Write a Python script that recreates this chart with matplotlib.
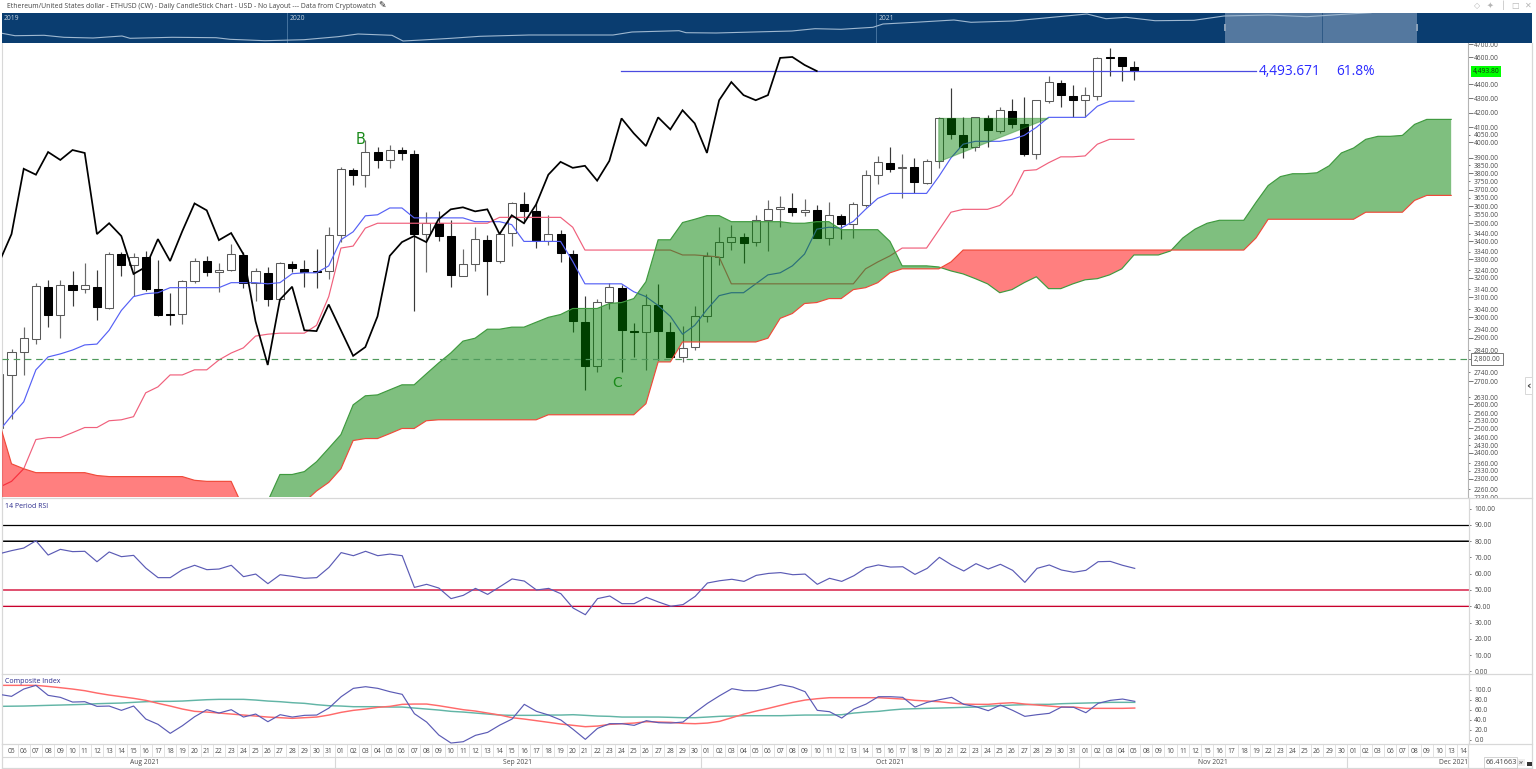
import numpy as np
import matplotlib
matplotlib.use('Agg')
import matplotlib.pyplot as plt
from matplotlib.lines import Line2D
from matplotlib.patches import Rectangle
from matplotlib.ticker import FuncFormatter, NullFormatter

plt.rcParams['font.family'] = ['Open Sans', 'DejaVu Sans']

# Candles, first one is cut off by the left edge
opens = [2498, 2728, 2833, 2893, 3154, 3013, 3164, 3144, 3154, 3043,
         3328, 3269, 3312, 3144, 3018, 3018, 3185, 3290, 3232, 3242,
         3323, 3175, 3227, 3093, 3274, 3248, 3237, 3237, 3433, 3823,
         3792, 3936, 3885, 3949, 3924, 3439, 3501, 3428, 3211, 3274,
         3405, 3290, 3445, 3611, 3570, 3400, 3439, 3328, 2975, 2769,
         3078, 3149, 2932, 2927, 3063, 2927, 2810, 2856, 3004, 3312,
         3394, 3422, 3394, 3518, 3582, 3588, 3565, 3576, 3417, 3541,
         3495, 3605, 3792, 3867, 3835, 3841, 3743, 3879, 4160, 4045,
         3968, 4160, 4072, 4209, 4119, 3924, 4279, 4409, 4315, 4286,
         4315, 4602, 4602, 4527]
highs = [2733, 2847, 2951, 3175, 3190, 3190, 3237, 3280, 3242, 3339,
         3339, 3334, 3345, 3296, 3123, 3190, 3307, 3318, 3280, 3383,
         3339, 3253, 3258, 3285, 3290, 3296, 3356, 3478, 3841, 3835,
         4012, 3968, 3981, 3968, 3949, 3565, 3570, 3518, 3356, 3478,
         3433, 3456, 3623, 3683, 3623, 3547, 3461, 3350, 3108, 3093,
         3175, 3164, 2970, 3118, 3169, 2975, 2956, 3053, 3339, 3478,
         3490, 3445, 3547, 3635, 3659, 3677, 3641, 3605, 3623, 3553,
         3623, 3823, 3911, 3968, 3924, 3898, 3892, 4167, 4373, 4167,
         4167, 4181, 4237, 4293, 4308, 4286, 4460, 4431, 4395, 4380,
         4602, 4671, 4602, 4572]
lows = [2498, 2538, 2728, 2870, 2951, 2898, 3053, 3123, 2984, 3038,
        3211, 3108, 3133, 3004, 2960, 2965, 3175, 3211, 3128, 3237,
        3149, 3083, 3058, 3088, 3232, 3154, 3149, 3196, 3394, 3731,
        3713, 3835, 3835, 3885, 3028, 3232, 3400, 3154, 3211, 3237,
        3113, 3280, 3372, 3501, 3361, 3378, 3285, 2927, 2662, 2742,
        3038, 2742, 2810, 2751, 2796, 2810, 2787, 2842, 2975, 3269,
        3350, 3280, 3372, 3345, 3478, 3541, 3541, 3417, 3378, 3411,
        3417, 3594, 3737, 3811, 3647, 3677, 3737, 3835, 4019, 3898,
        3943, 3968, 4059, 4092, 3911, 3892, 4265, 4237, 4167, 4167,
        4286, 4460, 4423, 4431]
closes = [2733, 2833, 2898, 3159, 3013, 3164, 3139, 3164, 3048, 3328,
          3269, 3312, 3144, 3013, 3013, 3185, 3290, 3232, 3242, 3328,
          3175, 3237, 3093, 3280, 3253, 3232, 3232, 3433, 3829, 3792,
          3936, 3885, 3949, 3930, 3439, 3501, 3428, 3216, 3274, 3411,
          3290, 3439, 3617, 3570, 3400, 3439, 3334, 2980, 2769, 3078,
          3154, 2936, 2927, 3063, 2932, 2810, 2852, 3004, 3318, 3394,
          3422, 3389, 3518, 3582, 3594, 3565, 3576, 3417, 3547, 3495,
          3611, 3792, 3873, 3829, 3841, 3749, 3879, 4160, 4052, 3968,
          4167, 4079, 4216, 4119, 3924, 4286, 4416, 4322, 4286, 4322,
          4595, 4595, 4535, 4497]

tenkan = [2489, 2551, 2610, 2751, 2810, 2824, 2842, 2866, 2870, 2936,
          3033, 3103, 3118, 3123, 3149, 3149, 3149, 3149, 3149, 3175,
          3175, 3175, 3169, 3175, 3222, 3227, 3227, 3264, 3407, 3452,
          3544, 3550, 3590, 3590, 3532, 3532, 3532, 3532, 3532, 3510,
          3510, 3510, 3493, 3398, 3398, 3398, 3398, 3288, 3169, 3169,
          3169, 3169, 3128, 3103, 3058, 3004, 2917, 2960, 3038, 3108,
          3123, 3123, 3169, 3216, 3227, 3264, 3328, 3467, 3478, 3473,
          3512, 3582, 3647, 3677, 3677, 3677, 3677, 3780, 3898, 3987,
          4006, 4006, 4006, 4019, 4045, 4099, 4167, 4167, 4167, 4167,
          4244, 4279, 4279, 4279]
kijun = [2268, 2290, 2338, 2453, 2461, 2461, 2481, 2502, 2502, 2530,
         2534, 2547, 2649, 2675, 2728, 2728, 2751, 2751, 2796, 2828,
         2852, 2908, 2917, 2922, 2922, 2922, 2960, 3103, 3361, 3372,
         3473, 3501, 3501, 3501, 3501, 3501, 3501, 3501, 3501, 3501,
         3501, 3535, 3535, 3535, 3535, 3535, 3535, 3478, 3350, 3350,
         3350, 3350, 3350, 3350, 3350, 3350, 3323, 3323, 3318, 3312,
         3169, 3169, 3169, 3169, 3169, 3169, 3169, 3169, 3169, 3169,
         3169, 3248, 3285, 3318, 3361, 3361, 3361, 3461, 3565, 3582,
         3582, 3582, 3605, 3671, 3817, 3823, 3867, 3905, 3905, 3911,
         3987, 4019, 4019, 4019]
chikou = [3285, 3439, 3829, 3792, 3936, 3885, 3949, 3930, 3439, 3501,
          3428, 3221, 3258, 3411, 3290, 3456, 3617, 3576, 3405, 3445,
          3328, 2980, 2773, 3088, 3154, 2936, 2932, 3063, 2936, 2815,
          2856, 3004, 3318, 3394, 3428, 3394, 3524, 3582, 3594, 3570,
          3582, 3439, 3547, 3501, 3611, 3792, 3873, 3835, 3848, 3755,
          3879, 4160, 4059, 3975, 4167, 4085, 4216, 4126, 3930, 4286,
          4416, 4322, 4286, 4322, 4595, 4602, 4542, 4497]
senkou_a = [2160, 2160, 2160, 2160, 2160, 2160, 2160, 2160, 2160, 2160,
            2160, 2160, 2160, 2160, 2160, 2160, 2160, 2160, 2160, 2160,
            2170, 2175, 2216, 2316, 2316, 2327, 2365, 2418, 2473, 2597,
            2636, 2640, 2662, 2684, 2684, 2733, 2782, 2828, 2884, 2898,
            2941, 2941, 2951, 2951, 2975, 2999, 3013, 3043, 3043, 3043,
            3068, 3073, 3093, 3180, 3407, 3407, 3505, 3524, 3545, 3545,
            3510, 3510, 3510, 3510, 3510, 3501, 3501, 3510, 3510, 3464,
            3464, 3464, 3464, 3398, 3264, 3264, 3264, 3258, 3237, 3221,
            3196, 3169, 3123, 3139, 3175, 3206, 3144, 3144, 3169, 3190,
            3196, 3216, 3248, 3323, 3323, 3323, 3345, 3417, 3467, 3501,
            3518, 3518, 3518, 3623, 3725, 3780, 3798, 3798, 3804, 3848,
            3930, 3962, 4019, 4039, 4039, 4045, 4119, 4153, 4153, 4153]
senkou_b = [2522, 2357, 2338, 2323, 2323, 2323, 2323, 2323, 2312, 2308,
            2308, 2308, 2308, 2308, 2308, 2308, 2294, 2290, 2290, 2290,
            2192, 2172, 2165, 2172, 2189, 2213, 2254, 2286, 2338, 2449,
            2457, 2457, 2477, 2498, 2498, 2530, 2534, 2534, 2534, 2534,
            2534, 2534, 2534, 2534, 2534, 2555, 2555, 2555, 2555, 2555,
            2555, 2555, 2555, 2602, 2787, 2787, 2880, 2880, 2880, 2880,
            2880, 2880, 2880, 2898, 2994, 3018, 3068, 3073, 3093, 3093,
            3139, 3149, 3175, 3227, 3248, 3248, 3248, 3248, 3285, 3350,
            3350, 3350, 3350, 3350, 3350, 3350, 3350, 3350, 3350, 3350,
            3350, 3350, 3350, 3350, 3350, 3350, 3350, 3350, 3350, 3350,
            3350, 3350, 3350, 3417, 3524, 3524, 3524, 3524, 3524, 3524,
            3524, 3524, 3565, 3565, 3565, 3565, 3635, 3665, 3665, 3665]

rsi = [72.3, 74.2, 75.8, 80.3, 71.5, 75.0, 73.6, 73.8, 67.4, 73.4,
       70.5, 71.3, 63.5, 57.6, 57.6, 62.5, 65.2, 62.5, 62.9, 65.2,
       58.2, 59.8, 53.9, 59.4, 58.4, 57.2, 57.6, 63.9, 73.0, 71.1,
       73.8, 71.1, 72.1, 71.1, 51.6, 53.5, 51.2, 44.7, 46.7, 51.0,
       47.3, 52.0, 56.8, 55.5, 50.0, 51.0, 47.7, 38.9, 34.8, 44.7,
       46.3, 41.6, 41.6, 45.5, 42.6, 40.0, 41.0, 46.1, 54.3, 55.7,
       56.6, 55.3, 59.0, 60.2, 60.7, 59.4, 59.8, 53.5, 57.2, 55.3,
       58.8, 63.7, 65.4, 64.1, 64.3, 59.6, 63.3, 70.1, 65.4, 61.7,
       66.2, 62.9, 65.8, 62.1, 54.7, 63.3, 65.4, 62.3, 60.9, 62.1,
       67.4, 67.6, 65.2, 63.3]
composite = [90.7, 86.7, 101.3, 108.7, 88.7, 84.7, 75.3, 76.0, 66.7, 67.3,
             58.7, 67.3, 41.3, 30.7, 12.7, 28.0, 46.0, 60.0, 53.3, 60.0,
             45.3, 51.3, 36.0, 50.0, 45.3, 48.7, 49.3, 63.3, 86.0, 102.7,
             106.0, 102.7, 96.0, 90.7, 52.0, 35.3, 9.3, -6.7, -4.0, 8.7,
             14.7, 29.3, 41.3, 70.7, 56.7, 49.3, 39.3, 20.7, 0.7, 22.7,
             32.0, 32.0, 28.7, 38.0, 34.0, 33.3, 35.3, 54.7, 72.7, 88.0,
             102.0, 98.0, 98.0, 103.3, 110.0, 105.3, 96.0, 58.7, 56.0, 43.3,
             61.3, 71.3, 86.0, 86.0, 84.7, 65.3, 74.7, 80.0, 84.7, 70.7,
             66.0, 58.0, 69.3, 58.7, 46.7, 50.0, 52.7, 65.3, 64.7, 54.0,
             72.7, 78.7, 81.3, 76.7]
comp_fast = [108.7, 108.7, 108.7, 108.7, 106.5, 104.0, 101.3, 98.0, 93.3, 89.3,
             86.0, 82.7, 78.7, 72.7, 67.3, 61.3, 56.7, 55.3, 53.3, 51.3,
             49.3, 47.3, 45.3, 44.0, 42.7, 44.0, 45.3, 49.3, 54.7, 58.7,
             61.3, 64.7, 66.7, 70.7, 71.3, 71.3, 68.0, 64.0, 60.0, 57.3,
             53.3, 49.3, 44.0, 41.3, 38.0, 34.7, 31.3, 28.7, 26.0, 27.3,
             30.7, 32.0, 33.3, 36.0, 35.3, 34.7, 32.7, 32.0, 33.3, 36.7,
             44.0, 51.3, 57.3, 62.7, 68.7, 74.7, 79.3, 82.0, 84.0, 84.0,
             84.0, 84.0, 84.0, 82.7, 81.3, 78.7, 77.3, 76.0, 73.3, 71.3,
             70.7, 70.7, 72.7, 74.0, 71.3, 69.3, 67.3, 65.3, 65.3, 62.7,
             62.7, 62.7, 62.7, 63.3]
comp_slow = [66.7, 67.0, 67.3, 68.0, 68.7, 69.3, 70.0, 70.7, 72.0, 72.7,
             73.3, 74.7, 76.0, 76.7, 76.7, 77.3, 78.7, 80.0, 80.7, 80.7,
             80.7, 79.3, 77.3, 76.0, 74.0, 72.7, 70.0, 68.0, 67.3, 66.0,
             66.0, 66.0, 65.3, 65.3, 63.3, 61.3, 59.3, 56.7, 55.3, 53.3,
             51.3, 49.3, 48.7, 48.7, 48.7, 49.3, 49.3, 50.0, 48.7, 47.3,
             46.7, 45.3, 45.3, 45.3, 45.3, 44.7, 44.0, 44.0, 45.3, 46.7,
             47.3, 48.0, 48.0, 48.0, 48.0, 48.7, 49.3, 49.3, 49.3, 50.0,
             53.3, 55.3, 56.7, 59.3, 61.3, 62.0, 62.7, 63.3, 64.0, 64.7,
             65.3, 67.3, 68.0, 69.3, 70.0, 70.7, 70.7, 72.0, 72.7, 73.3,
             74.0, 74.7, 74.7, 74.7]

# Overview strip along the top
nav_pos = [2, 15, 44, 64, 93, 122, 130, 172, 216, 230, 265, 304, 338, 358, 392, 403,
           422, 451, 480, 529, 564, 613, 632, 679, 686, 716, 765, 792, 815, 841, 873,
           883, 915, 954, 971, 1013, 1052, 1087, 1106, 1126, 1155, 1194, 1224, 1268,
           1307, 1337, 1371]
nav_level = [9.7, 7.3, 7.7, 5.7, 5.0, 7.0, 4.7, 5.7, 5.3, 3.7, 2.3, 3.3, 6.3, 9.0, 7.7, 2.0,
             3.0, 4.7, 6.7, 8.0, 8.0, 8.0, 11.0, 12.3, 10.3, 10.0, 11.3, 12.0, 14.3, 13.7, 15.7,
             19.0, 20.7, 23.0, 20.7, 22.0, 25.7, 29.0, 24.3, 25.7, 22.3, 22.7, 27.0, 28.0,
             26.3, 28.3, 30.3]

price_major = [4700, 4600, 4400, 4300, 4200, 4100, 4000, 3900, 3800, 3700, 3600, 3500, 3400,
               3300, 3200, 3100, 3000, 2900, 2800, 2700, 2600, 2500, 2400, 2300]
price_minor = [4050, 3850, 3750, 3650, 3550, 3440, 3340, 3240, 3140, 3040, 2940, 2840, 2740,
               2630, 2560, 2530, 2460, 2430, 2360, 2330, 2260, 2230]
aug_days = ['%02d' % d for d in range(5, 32)]
sep_days = ['%02d' % d for d in range(1, 31)]
oct_days = ['%02d' % d for d in range(1, 32)]
nov_days = ['01', '02', '03', '04', '05', '08', '09', '10', '11', '12', '15', '16', '17', '18',
            '19', '22', '23', '24', '25', '26', '29', '30']
dec_days = ['01', '02', '03', '06', '07', '08', '09', '10', '13', '14']
day_labels = aug_days + sep_days + oct_days + nov_days + dec_days
month_labels = ['Aug 2021', 'Sep 2021', 'Oct 2021', 'Nov 2021', 'Dec 2021']
month_centers = [10.95, 41.5, 72.0, 98.5, 118.2]
month_edges = [26.5, 56.5, 87.5, 109.5]

fib_price = 4493.671
dash_price = 2800
triangle_x = [76, 85, 76]
triangle_y = [4160, 4160, 3873]

W, H = 1536, 769
fig = plt.figure(figsize=(W / 100, H / 100), dpi=100, facecolor='white')


def px_axes(left, top, right, bottom, **kw):
    return fig.add_axes([left / W, 1 - bottom / H, (right - left) / W, (bottom - top) / H], **kw)


def fig_line(x0, y0, x1, y1, color='#dcdcdc', lw=1.0):
    fig.add_artist(Line2D([x0 / W, x1 / W], [1 - y0 / H, 1 - y1 / H], color=color, lw=lw, zorder=9))


XL = (-0.78, 119.38)
LABEL = '#4a4a4a'
x_main = np.arange(-1, 93)
x_cloud = np.arange(-1, 119)
x_lag = np.arange(-1, 67)

ax = px_axes(2, 43, 1468, 497.5, zorder=1)
ax.set_yscale('log')
ax.set_xlim(XL)
ax.set_ylim(2232, 4709)

# candles under the cloud, the cloud tints them green
for xi, o, h, l, c in zip(x_main, opens, highs, lows, closes):
    ax.vlines(xi, l, h, color='#6a6a6a' if c > o else '#3a3a3a', lw=0.85, zorder=2)
    top, bot = max(o, c), min(o, c)
    ax.bar(xi, top - bot, bottom=bot, width=0.66, color='white' if c > o else 'black',
           edgecolor='#5a5a5a' if c > o else 'black', lw=0.75, zorder=2.2)

ax.plot(x_main, tenkan, color='#5560f5', lw=0.85, zorder=2.5)
ax.plot(x_main, kijun, color='#f0607c', lw=0.85, zorder=2.5)

a = np.array(senkou_a, float)
b = np.array(senkou_b, float)
ax.fill_between(x_cloud, a, b, where=a >= b, interpolate=True, color='#008000', alpha=0.5, lw=0, zorder=3)
ax.fill_between(x_cloud, a, b, where=a <= b, interpolate=True, color='#ff0000', alpha=0.5, lw=0, zorder=3)
ax.plot(x_cloud, a, color='#3f9a3f', lw=0.85, zorder=3.2)
ax.plot(x_cloud, b, color='#f04a3a', lw=0.85, zorder=3.2)

ax.fill(triangle_x, triangle_y, facecolor='#008000', alpha=0.45, edgecolor='#2f8f2f', lw=0.8, zorder=3.3)
ax.plot(x_lag, chikou, color='black', lw=1.25, zorder=4, solid_joinstyle='miter')

ax.plot([49.96, 102.0], [fib_price, fib_price], color='#4a4ae0', lw=0.9, zorder=3.5)
ax.axhline(dash_price, color='#4f9a5c', lw=0.85, dashes=(5.5, 4), zorder=3.5)
ax.text(102.25, fib_price, '4,493.671', color='#2a2aff', fontsize=9.9, va='center', ha='left', zorder=5)
ax.text(108.55, fib_price, '61.8%', color='#2a2aff', fontsize=9.9, va='center', ha='left', zorder=5)
ax.text(28.65, 4020, 'B', color='#1a8a1a', fontsize=10.5, ha='center', va='center', zorder=5,
        family=['DejaVu Sans'])
ax.text(49.6, 2693, 'C', color='#1a8a1a', fontsize=10, ha='center', va='center', zorder=5,
        family=['DejaVu Sans'])

ax.set_xticks([])
ax.minorticks_off()
ax.yaxis.tick_right()
ax.set_yticks(price_major)
ax.set_yticks(price_minor, minor=True)
price_fmt = FuncFormatter(lambda v, p: '' if v == dash_price else '%.2f' % v)
ax.yaxis.set_major_formatter(price_fmt)
ax.yaxis.set_minor_formatter(price_fmt)
ax.tick_params(axis='y', which='major', length=3.4, width=0.7, color='#777777', labelsize=4.8,
               labelcolor=LABEL, pad=0.9)
ax.tick_params(axis='y', which='minor', length=1.4, width=0.7, color='#777777', labelsize=4.8,
               labelcolor=LABEL, pad=2.9)
for name, spine in ax.spines.items():
    spine.set_visible(name in ('left', 'right'))
    spine.set_color('#d8d8d8' if name == 'left' else '#b4b4b4')
    spine.set_linewidth(0.8)

ax.annotate('4,493.80', xy=(1, 4493.8), xycoords=('axes fraction', 'data'), xytext=(3.6, 0),
            textcoords='offset points', fontsize=4.8, color='#143214', va='center', ha='left',
            annotation_clip=False, zorder=6,
            bbox=dict(boxstyle='square,pad=0.25', fc='#00ff00', ec='none'))
ax.annotate('2,800.00', xy=(1, dash_price), xycoords=('axes fraction', 'data'), xytext=(4.0, 0),
            textcoords='offset points', fontsize=4.8, color=LABEL, va='center', ha='left',
            annotation_clip=False, zorder=6,
            bbox=dict(boxstyle='square,pad=0.35', fc='white', ec='#777777', lw=0.7))

# white cover stops the price labels running into the panels below
cover = px_axes(1468, 498.3, 1532, 769, zorder=2)
cover.set_axis_off()
cover.add_patch(Rectangle((0, 0), 1, 1, transform=cover.transAxes, fc='white', ec='none'))

# RSI panel
ax_rsi = px_axes(2, 498.3, 1469, 673.7, zorder=3)
ax_rsi.set_xlim(XL)
ax_rsi.set_ylim(-1.48, 106.4)
ax_rsi.axhline(90, color='black', lw=0.9, zorder=2)
ax_rsi.axhline(80, color='#777777', lw=1.4, zorder=1.9)
ax_rsi.axhline(80, color='black', lw=0.7, zorder=2)
ax_rsi.axhline(50, color='#e0506f', lw=1.4, zorder=2)
ax_rsi.axhline(40, color='#f0b8c4', lw=1.5, zorder=1.9)
ax_rsi.axhline(40, color='#c8002c', lw=0.75, zorder=2)
ax_rsi.plot(x_main, rsi, color='#5b5bb5', lw=0.85, zorder=3)
ax_rsi.text(0.0022, 0.955, '14 Period RSI', transform=ax_rsi.transAxes, fontsize=5.0, color='#2b2b8c',
            va='center', ha='left')
ax_rsi.set_xticks([])
ax_rsi.yaxis.tick_right()
ax_rsi.set_yticks(np.arange(0, 101, 10))
ax_rsi.yaxis.set_major_formatter(FuncFormatter(lambda v, p: '%.2f' % v))
ax_rsi.tick_params(axis='y', length=1.6, width=0.7, color='#777777', labelsize=4.8, labelcolor=LABEL, pad=2.2)

# Composite panel
ax_ci = px_axes(2, 673.7, 1469, 744, zorder=3)
ax_ci.set_xlim(XL)
ax_ci.set_ylim(-8.6, 132)
ax_ci.plot(x_main, comp_slow, color='#62b5a6', lw=1.05, zorder=2)
ax_ci.plot(x_main, comp_fast, color='#ff6a6a', lw=1.05, zorder=2.2)
ax_ci.plot(x_main, composite, color='#5b5bb5', lw=0.85, zorder=3)
ax_ci.text(0.0022, 0.885, 'Composite Index', transform=ax_ci.transAxes, fontsize=5.0, color='#2b2b8c',
           va='center', ha='left')
ax_ci.set_xticks([])
ax_ci.yaxis.tick_right()
ax_ci.set_yticks(np.arange(0, 101, 20))
ax_ci.yaxis.set_major_formatter(FuncFormatter(lambda v, p: '%.1f' % v))
ax_ci.tick_params(axis='y', length=1.6, width=0.7, color='#777777', labelsize=4.8, labelcolor=LABEL, pad=2.2)

for pane in (ax_rsi, ax_ci):
    for name, spine in pane.spines.items():
        spine.set_visible(name in ('left', 'right', 'top'))
        spine.set_color('#d8d8d8')
        spine.set_linewidth(0.9)

# Date rows
ax_date = px_axes(2, 744, 1468, 768, zorder=3)
ax_date.set_xlim(XL)
ax_date.set_ylim(0, 1)
ax_date.set_xticks([])
ax_date.set_yticks([])
for s in ax_date.spines.values():
    s.set_color('#d8d8d8')
    s.set_linewidth(0.9)
ax_date.axhline(0.47, color='#d8d8d8', lw=0.8)
for i, lab in enumerate(day_labels):
    ax_date.text(i, 0.705, lab, fontsize=4.9, color=LABEL, ha='center', va='center', clip_on=True)
    ax_date.plot([i + 0.5, i + 0.5], [0.47, 1], color='#e2e2e2', lw=0.7)
for lab, pos in zip(month_labels, month_centers):
    ax_date.text(pos, 0.235, lab, fontsize=4.9, color=LABEL, ha='center', va='center')
for edge in month_edges:
    ax_date.plot([edge, edge], [0, 0.47], color='#d8d8d8', lw=0.8)

# Overview strip
ax_nav = px_axes(2, 13, 1532, 43, zorder=4, facecolor='#0a3d70')
ax_nav.set_xlim(2, 1532)
ax_nav.set_ylim(0, 30)
ax_nav.axvspan(1225, 1417.5, color='#54789f', lw=0, zorder=1)
ax_nav.axvline(287.5, color='#4f7aa5', lw=0.6, zorder=1.5)
ax_nav.axvline(876, color='#4f7aa5', lw=0.6, zorder=1.5)
ax_nav.axvline(1322, color='#2e5a86', lw=0.7, zorder=1.5)
ax_nav.plot(nav_pos, nav_level, color='#9fb8d0', lw=0.8, zorder=2)
for xp in (1225, 1417):
    ax_nav.add_patch(Rectangle((xp - 1, 12), 2, 7, fc='#8aa0b8', ec='none', zorder=3))
for lab, xp in zip(['2019', '2020', '2021'], [3.5, 289.5, 879]):
    ax_nav.text(xp, 25, lab, fontsize=4.9, color='#c8d4e0', va='center', ha='left', zorder=3)
ax_nav.set_xticks([])
ax_nav.set_yticks([])
for s in ax_nav.spines.values():
    s.set_visible(False)

# Window furniture
fig.text(7 / W, 1 - 6 / H,
         'Ethereum/United States dollar - ETHUSD (CW) - Daily CandleStick Chart - USD - No Layout --- Data from Cryptowatch',
         fontsize=4.95, color='#444444', va='center', ha='left', zorder=10)
fig.text(382 / W, 1 - 5.5 / H, '\u270e', fontsize=6.5, color='#222222', va='center', ha='center',
         family=['DejaVu Sans'], zorder=10)
for xp, ch in zip([1477, 1490, 1503, 1515, 1528], ['\u25c7', '\u2726', '\u2502', '\u25a1', '\u2715']):
    fig.text(xp / W, 1 - 5.5 / H, ch, fontsize=5.8, color='#b5b5b5', va='center', ha='center',
             family=['DejaVu Sans'], zorder=10)
fig_line(1532, 43, 1532, 768, color='#d8d8d8', lw=0.9)
fig_line(1469, 498.3, 1532, 498.3, color='#d8d8d8', lw=0.9)
fig_line(1469, 673.7, 1532, 673.7, color='#d8d8d8', lw=0.9)
fig_line(1469, 744, 1532, 744, color='#d8d8d8', lw=0.9)
fig_line(1469, 768, 1532, 768, color='#d8d8d8', lw=0.9)
fig.add_artist(Rectangle((1525 / W, 1 - 394 / H), 7 / W, 17 / H, transform=fig.transFigure, fc='white',
                         ec='#d8d8d8', lw=0.7, zorder=9))
fig.text(1528.5 / W, 1 - 385.5 / H, '\u2039', fontsize=8, color='#444444', va='center', ha='center',
         fontweight='bold', family=['DejaVu Sans'], zorder=10)
fig.text(1486 / W, 1 - 762.5 / H, '66.41663', fontsize=5.2, color='#444444', va='center', ha='left', zorder=10)
fig.add_artist(Rectangle((1484 / W, 1 - 768 / H), 33 / W, 11 / H, transform=fig.transFigure, fc='none',
                         ec='#cccccc', lw=0.6, zorder=9))
fig.text(1519 / W, 1 - 762.5 / H, 'XY', fontsize=3.2, color='#333333', va='center', ha='left', zorder=10,
         bbox=dict(boxstyle='square,pad=0.3', fc='#eeeeee', ec='none'))
fig.add_artist(Rectangle((1527 / W, 1 - 766 / H), 4.5 / W, 4.5 / H, transform=fig.transFigure, fc='#333333',
                         ec='none', zorder=10))

fig.savefig('out.png', dpi=100)
